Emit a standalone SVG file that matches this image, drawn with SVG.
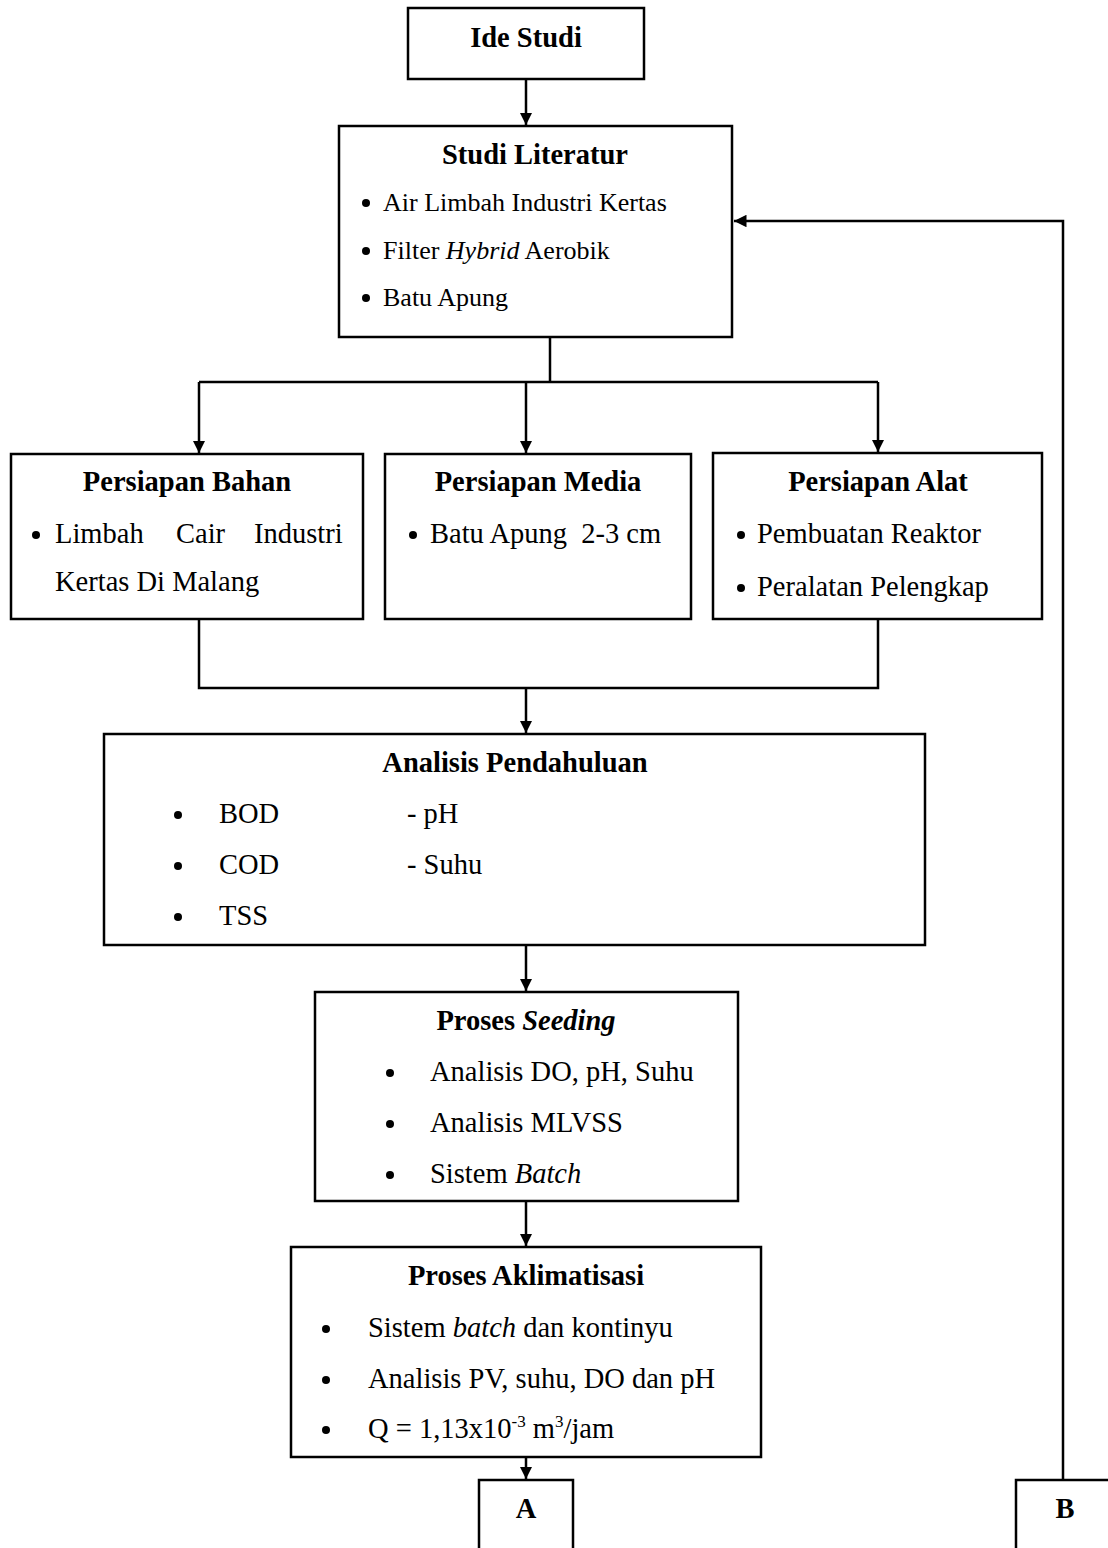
<svg xmlns="http://www.w3.org/2000/svg" width="1108" height="1548" viewBox="0 0 1108 1548">
<style>
.box{fill:#fff;stroke:#000;stroke-width:2.5}
.t{font-family:"Liberation Serif","Times New Roman",serif;font-size:28.5px;fill:#000}
.s{font-size:26px}
.h{font-family:"Liberation Serif","Times New Roman",serif;font-size:28.5px;font-weight:bold;fill:#000;text-anchor:middle}
.c{fill:none;stroke:#000;stroke-width:2.5}
</style>
<defs>
<marker id="ar" viewBox="0 0 10 10" refX="10" refY="5" markerWidth="5" markerHeight="5" orient="auto">
<path d="M0,0 L10,5 L0,10 z" fill="#000"/>
</marker>
</defs>
<rect width="1108" height="1548" fill="#fff"/>
<g id="connectors">
<line class="c" x1="526" y1="79" x2="526" y2="125" marker-end="url(#ar)"/>
<polyline class="c" points="550,337 550,382"/>
<polyline class="c" points="199,382 878,382"/>
<line class="c" x1="199" y1="382" x2="199" y2="453" marker-end="url(#ar)"/>
<line class="c" x1="526" y1="382" x2="526" y2="453" marker-end="url(#ar)"/>
<line class="c" x1="878" y1="382" x2="878" y2="452" marker-end="url(#ar)"/>
<polyline class="c" points="199,619 199,688 878,688 878,619"/>
<line class="c" x1="526" y1="688" x2="526" y2="733" marker-end="url(#ar)"/>
<line class="c" x1="526" y1="945" x2="526" y2="991" marker-end="url(#ar)"/>
<line class="c" x1="526" y1="1201" x2="526" y2="1246" marker-end="url(#ar)"/>
<line class="c" x1="526" y1="1457" x2="526" y2="1479" marker-end="url(#ar)"/>
<polyline class="c" points="1063,1480 1063,221 734,221" marker-end="url(#ar)"/>
</g>
<g id="ide-studi">
<rect class="box" x="408" y="8" width="236" height="71"/>
<text class="h" x="526" y="47">Ide Studi</text>
</g>
<g id="studi-literatur">
<rect class="box" x="339" y="126" width="393" height="211"/>
<text class="h" x="535" y="164">Studi Literatur</text>
<circle cx="366" cy="203" r="4"/>
<text class="t s" x="383" y="211">Air Limbah Industri Kertas</text>
<circle cx="366" cy="251" r="4"/>
<text class="t s" x="383" y="259">Filter <tspan font-style="italic">Hybrid</tspan> Aerobik</text>
<circle cx="366" cy="298" r="4"/>
<text class="t s" x="383" y="306">Batu Apung</text>
</g>
<g id="persiapan-bahan">
<rect class="box" x="11" y="454" width="352" height="165"/>
<text class="h" x="187" y="491">Persiapan Bahan</text>
<circle cx="36" cy="535" r="4"/>
<text class="t" x="55" y="543">Limbah</text>
<text class="t" x="176" y="543">Cair</text>
<text class="t" x="254" y="543">Industri</text>
<text class="t" x="55" y="591">Kertas Di Malang</text>
</g>
<g id="persiapan-media">
<rect class="box" x="385" y="454" width="306" height="165"/>
<text class="h" x="538" y="491">Persiapan Media</text>
<circle cx="413" cy="535" r="4"/>
<text class="t" x="430" y="543" xml:space="preserve">Batu Apung  2-3 cm</text>
</g>
<g id="persiapan-alat">
<rect class="box" x="713" y="453" width="329" height="166"/>
<text class="h" x="878" y="491">Persiapan Alat</text>
<circle cx="741" cy="535" r="4"/>
<text class="t" x="757" y="543">Pembuatan Reaktor</text>
<circle cx="741" cy="588" r="4"/>
<text class="t" x="757" y="596">Peralatan Pelengkap</text>
</g>
<g id="analisis-pendahuluan">
<rect class="box" x="104" y="734" width="821" height="211"/>
<text class="h" x="515" y="772">Analisis Pendahuluan</text>
<circle cx="178" cy="815" r="4"/>
<text class="t" x="219" y="823">BOD</text>
<circle cx="178" cy="866" r="4"/>
<text class="t" x="219" y="874">COD</text>
<circle cx="178" cy="917" r="4"/>
<text class="t" x="219" y="925">TSS</text>
<text class="t" x="407" y="823">- pH</text>
<text class="t" x="407" y="874">- Suhu</text>
</g>
<g id="proses-seeding">
<rect class="box" x="315" y="992" width="423" height="209"/>
<text class="h" x="526" y="1030">Proses <tspan font-style="italic">Seeding</tspan></text>
<circle cx="390" cy="1073" r="4"/>
<text class="t" x="430" y="1081">Analisis DO, pH, Suhu</text>
<circle cx="390" cy="1124" r="4"/>
<text class="t" x="430" y="1132">Analisis MLVSS</text>
<circle cx="390" cy="1175" r="4"/>
<text class="t" x="430" y="1183">Sistem <tspan font-style="italic">Batch</tspan></text>
</g>
<g id="proses-aklimatisasi">
<rect class="box" x="291" y="1247" width="470" height="210"/>
<text class="h" x="526" y="1285">Proses Aklimatisasi</text>
<circle cx="326" cy="1329" r="4"/>
<text class="t" x="368" y="1337">Sistem <tspan font-style="italic">batch</tspan> dan kontinyu</text>
<circle cx="326" cy="1380" r="4"/>
<text class="t" x="368" y="1388">Analisis PV, suhu, DO dan pH</text>
<circle cx="326" cy="1430" r="4"/>
<text class="t" x="368" y="1438">Q = 1,13x10<tspan font-size="17" dy="-11">-3</tspan><tspan dy="11"> m</tspan><tspan font-size="17" dy="-11">3</tspan><tspan dy="11">/jam</tspan></text>
</g>
<g id="a">
<rect class="box" x="479" y="1480" width="94" height="80"/>
<text class="h" x="526" y="1518">A</text>
</g>
<g id="b">
<rect class="box" x="1016" y="1480" width="100" height="80"/>
<text class="h" x="1065" y="1518">B</text>
</g>
</svg>
